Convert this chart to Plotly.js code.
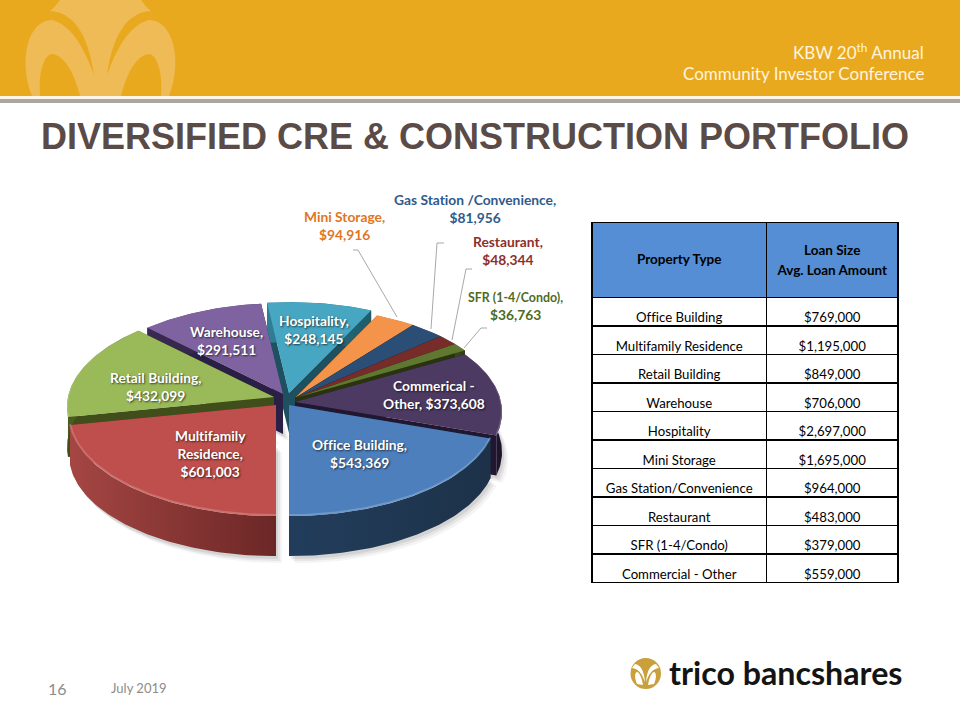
<!DOCTYPE html>
<html><head><meta charset="utf-8">
<script src="https://cdn.plot.ly/plotly-3.0.1.min.js"></script>
<style>html,body{margin:0;padding:0;background:#fff}#c{width:960px;height:720px}svg text{font-variant-ligatures:none;font-feature-settings:"liga" 0,"clig" 0}</style>
</head><body><div id="c"></div>
<script>
// ---- data ----
var categories = ["Office Building","Multifamily Residence","Retail Building","Warehouse","Hospitality","Mini Storage","Gas Station /Convenience","Restaurant","SFR (1-4/Condo)","Commerical - Other"];
var portfolioValues = [543369,601003,432099,291511,248145,94916,81956,48344,36763,373608];
var sliceLabels = ["Office Building,<br>$543,369","Multifamily<br>Residence,<br>$601,003","Retail Building,<br>$432,099","Warehouse,<br>$291,511","Hospitality,<br>$248,145","Mini Storage,<br>$94,916","Gas Station /Convenience,<br>$81,956","Restaurant,<br>$48,344","<span style=\"font-size:12.4px\">SFR (1-4/Condo),</span><br>$36,763","Commerical -<br>Other, $373,608"];
var tableTypes = ["Office Building","Multifamily Residence","Retail Building","Warehouse","Hospitality","Mini Storage","Gas Station/Convenience","Restaurant","SFR (1-4/Condo)","Commercial - Other"];
var tableAmounts = ["$769,000","$1,195,000","$849,000","$706,000","$2,697,000","$1,695,000","$964,000","$483,000","$379,000","$559,000"];

// ---- style / geometry ----
var topColors  = ["#4c7fbc","#bf4f4c","#9aba59","#7f63a1","#47a6c2","#f4944a","#2b4e77","#772c2a","#5f7731","#4c3a62"];
var wallLeft   = ["#223d5c","#a54643","#4a5c22","#3a2a52","#2f7f96","#a8601f","#1a324e","#501c1b","#3a4a1b","#2a1c3c"];
var wallRight  = ["#1d3249","#6b2726","#46561f","#2d2040","#1f5b6b","#8a4f16","#152a40","#421716","#2f3c15","#1e142c"];
var cutColors  = ["#1c2f45","#5e2221","#3f4e1b","#2a1f45","#1d5060","#7c4712","#13263a","#3a1413","#29340f","#221731"];
var centerX = [289,276,274,283,289,295,295,295,295,295];
var centerY = [405,405,397,394,393,398,398,398,398,402];
var labelX  = [359,210,155,226,314,344,475,508,515,434];
var labelY  = [453,453.5,386,340,329,225,208,250,306,394];
var labelColors = ["#fff","#fff","#fff","#fff","#fff","#e0761f","#2f5a8c","#8c2f2d","#4f6a22","#fff"];
var RX = 206, RY = 100, PERSP = 0.1, DEPTH = 40;
var FONT = "Lato, 'Open Sans', sans-serif";

function project(i, deg, drop) {
  var t = deg * Math.PI / 180, u = Math.sin(t), v = -Math.cos(t), s = 1 / (1 - PERSP * v);
  return [centerX[i] + RX * u * s, centerY[i] + RY * v * s + (drop || 0)];
}
var total = portfolioValues.reduce(function (a, b) { return a + b; }, 0);
var angle = 180 - portfolioValues[0] / total * 360, slices = [];
portfolioValues.forEach(function (val, i) {
  var a0 = angle, a1 = angle + val / total * 360; angle = a1;
  var arc = [], n = Math.max(4, Math.ceil(a1 - a0));
  for (var k = 0; k <= n; k++) arc.push(a0 + (a1 - a0) * k / n);
  slices.push({ i: i, arc: arc, mid: (a0 + a1) / 2 });
});
slices.sort(function (a, b) { return -Math.cos(a.mid * Math.PI / 180) + Math.cos(b.mid * Math.PI / 180); });

var traces = [];
function poly(xs, ys, extra) {
  var t = { type: "scatter", mode: "lines", x: xs, y: ys, fill: "toself", line: { width: 0 }, hoverinfo: "skip", showlegend: false, xaxis: "x", yaxis: "y" };
  for (var k in extra) t[k] = extra[k];
  traces.push(t);
}
// soft shadow under the extruded pie
[[6, 7, .06], [4, 5, .08], [2, 3, .1]].forEach(function (sh) {
  slices.forEach(function (s) {
    var xs = [centerX[s.i] + sh[0]], ys = [centerY[s.i] + DEPTH + sh[1]];
    s.arc.forEach(function (a) { var p = project(s.i, a, DEPTH + sh[1]); xs.push(p[0] + sh[0]); ys.push(p[1]); });
    poly(xs, ys, { fillcolor: "rgba(60,60,60," + sh[2] + ")" });
  });
});
// extruded slices, far to near
slices.forEach(function (s) {
  var i = s.i, cx = centerX[i], cy = centerY[i], first = project(i, s.arc[0]), last = project(i, s.arc[s.arc.length - 1]);
  poly([cx, first[0], first[0], cx, cx], [cy, first[1], first[1] + DEPTH, cy + DEPTH, cy], { fillcolor: cutColors[i] });
  poly([cx, last[0], last[0], cx, cx], [cy, last[1], last[1] + DEPTH, cy + DEPTH, cy], { fillcolor: cutColors[i] });
  var wx = [], wy = [];
  s.arc.forEach(function (a) { var p = project(i, a); wx.push(p[0]); wy.push(p[1]); });
  for (var k = s.arc.length - 1; k >= 0; k--) { var q = project(i, s.arc[k], DEPTH); wx.push(q[0]); wy.push(q[1]); }
  poly(wx, wy, { fillgradient: { type: "horizontal", colorscale: [[0, wallLeft[i]], [1, wallRight[i]]] } });
  var tx = [cx], ty = [cy];
  s.arc.forEach(function (a) { var p = project(i, a); tx.push(p[0]); ty.push(p[1]); });
  poly(tx, ty, { fillcolor: topColors[i] });
  var rx = [], ry = [];
  s.arc.forEach(function (a) { var p = project(i, a, -1); rx.push(p[0]); ry.push(p[1]); });
  traces.push({ type: "scatter", mode: "lines", x: rx, y: ry, line: { width: 2, color: "rgba(255,255,255,.2)" }, hoverinfo: "skip", showlegend: false });
});

// table
traces.push({
  type: "table",
  domain: { x: [592 / 960, 899 / 960], y: [1 - 583.5 / 720, 1 - 222.5 / 720] },
  columnwidth: [175, 132],
  header: {
    values: [["Property Type"], ["Loan Size<br>Avg. Loan Amount"]],
    align: "center", height: 75,
    fill: { color: "#558ed5" },
    line: { color: "#000", width: 1.5 },
    font: { family: FONT, size: 13.5, color: "#000", weight: 700 }
  },
  cells: {
    values: [tableTypes, tableAmounts],
    align: "center", height: 28.5,
    fill: { color: "#fff" },
    line: { color: "#000", width: 1.5 },
    font: { family: FONT, size: 13.2, color: "#000" }
  }
});

// annotations
var anns = sliceLabels.map(function (txt, i) {
  var white = labelColors[i] === "#fff";
  return { x: labelX[i], y: labelY[i], xref: "x", yref: "y", text: txt, showarrow: false, xanchor: "center", yanchor: "middle", align: "center",
    font: { family: FONT, size: 13.8, weight: 700, color: labelColors[i], shadow: white ? "1px 1px 2px rgba(0,0,0,.65)" : "none" } };
});
function txt(x, y, text, size, color, anchor, weight, family) {
  anns.push({ x: x, y: y, xref: "x", yref: "y", text: text, showarrow: false, xanchor: anchor, yanchor: "middle",
    font: { family: family || FONT, size: size, color: color, weight: weight || 400 } });
}
txt(474.5, 136.5, "DIVERSIFIED CRE &amp; CONSTRUCTION PORTFOLIO", 36, "#5b4b47", "center", 700, "'Liberation Sans', Arial, sans-serif");
txt(926, 51, "KBW 20<sup>th</sup> Annual", 17, "#fff4dc", "right");
txt(926, 73, "Community Investor Conference", 17, "#fff4dc", "right");
txt(57, 688, "16", 16, "#8c8c8c", "center");
txt(109, 688, "July 2019", 13, "#8c8c8c", "left");
txt(667, 672, "trico bancshares", 32.2, "#141414", "left", 700);

// decoration
var GOLD = "#e9a91f", PALE = "#efbb57";
function path(d, fill, line) { return { type: "path", path: d, xref: "x", yref: "y", fillcolor: fill, line: line || { width: 0 }, layer: "below" }; }
function rect(x0, y0, x1, y1, fill) { return { type: "rect", x0: x0, y0: y0, x1: x1, y1: y1, xref: "x", yref: "y", fillcolor: fill, line: { width: 0 }, layer: "below" }; }
var leader = { color: "#a8a8a8", width: 1 };
var shapes = [
  rect(0, 0, 960, 96, GOLD),
  rect(0, 96, 960, 99, "#fdf6e6"),
  rect(0, 99, 960, 103, "#aaa6a1"),
  path("M32 96 C18 60 28 20 52 20 L50 11 C54 8 57 4 60 0 L141 0 C144 4 147 8 151 11 L149 20 C173 20 183 60 169 96 Z", PALE),
  path("M50 11 C72 12 88 32 94 75 C 85 50 72 25 52 20 Z", GOLD),
  path("M151 11 C129 12 113 32 107 75 C 116 50 129 25 149 20 Z", GOLD),
  path("M40 96 C38 70 45 54 52 54 C65 55 75 75 80 96 Z", GOLD),
  path("M161 96 C163 70 156 54 149 54 C136 55 126 75 121 96 Z", GOLD),
  { type: "circle", x0: 630.5, y0: 658, x1: 661, y1: 689, xref: "x", yref: "y", fillcolor: "#c9a03c", line: { width: 0 }, layer: "below" },
  path("M635 664 C641 665 644 671 645 682 C642 674 639 669 632 668 Z", "#fff"),
  path("M656 664 C650 665 647 671 646 682 C649 674 652 669 659 668 Z", "#fff"),
  path("M637 684 C634 677 635 672 637 672 C640 673 642 679 643 685 Z", "#fff"),
  path("M654 684 C657 677 656 672 654 672 C651 673 649 679 648 685 Z", "#fff"),
  path("M353 250 L358 250 L397 317", "rgba(0,0,0,0)", leader),
  path("M444 243 L437 243 L431 329", "rgba(0,0,0,0)", leader),
  path("M472 269 L466 269 L452 340", "rgba(0,0,0,0)", leader),
  path("M487 328 L481 328 L464 348", "rgba(0,0,0,0)", leader)
];

var layout = {
  width: 960, height: 720, margin: { l: 0, r: 0, t: 0, b: 0 }, paper_bgcolor: "#fff", plot_bgcolor: "#fff", showlegend: false,
  xaxis: { range: [0, 960], visible: false, fixedrange: true, domain: [0, 1] },
  yaxis: { range: [720, 0], visible: false, fixedrange: true, domain: [0, 1] },
  annotations: anns, shapes: shapes, hovermode: false
};
function settleTableText() {
  document.querySelectorAll(".cell-text").forEach(function (el) {
    var s = el.textContent, shift = 7;
    if (s === "Property Type") shift = 23;
    if (s.indexOf("Loan Size") === 0) {
      shift = 11;
      var w = el.getBBox().width, lines = el.querySelectorAll("tspan.line");
      lines.forEach(function (t, k) {
        t.setAttribute("x", w / 2); t.setAttribute("text-anchor", "middle");
        if (k > 0) t.setAttribute("dy", "20.5");
      });
    }
    el.style.transform = "translateY(" + shift + "px)";
  });
}
Plotly.newPlot("c", traces, layout, { staticPlot: true, displayModeBar: false }).then(function () {
  settleTableText();
  requestAnimationFrame(settleTableText);
  setTimeout(settleTableText, 100);
});
</script></body></html>
